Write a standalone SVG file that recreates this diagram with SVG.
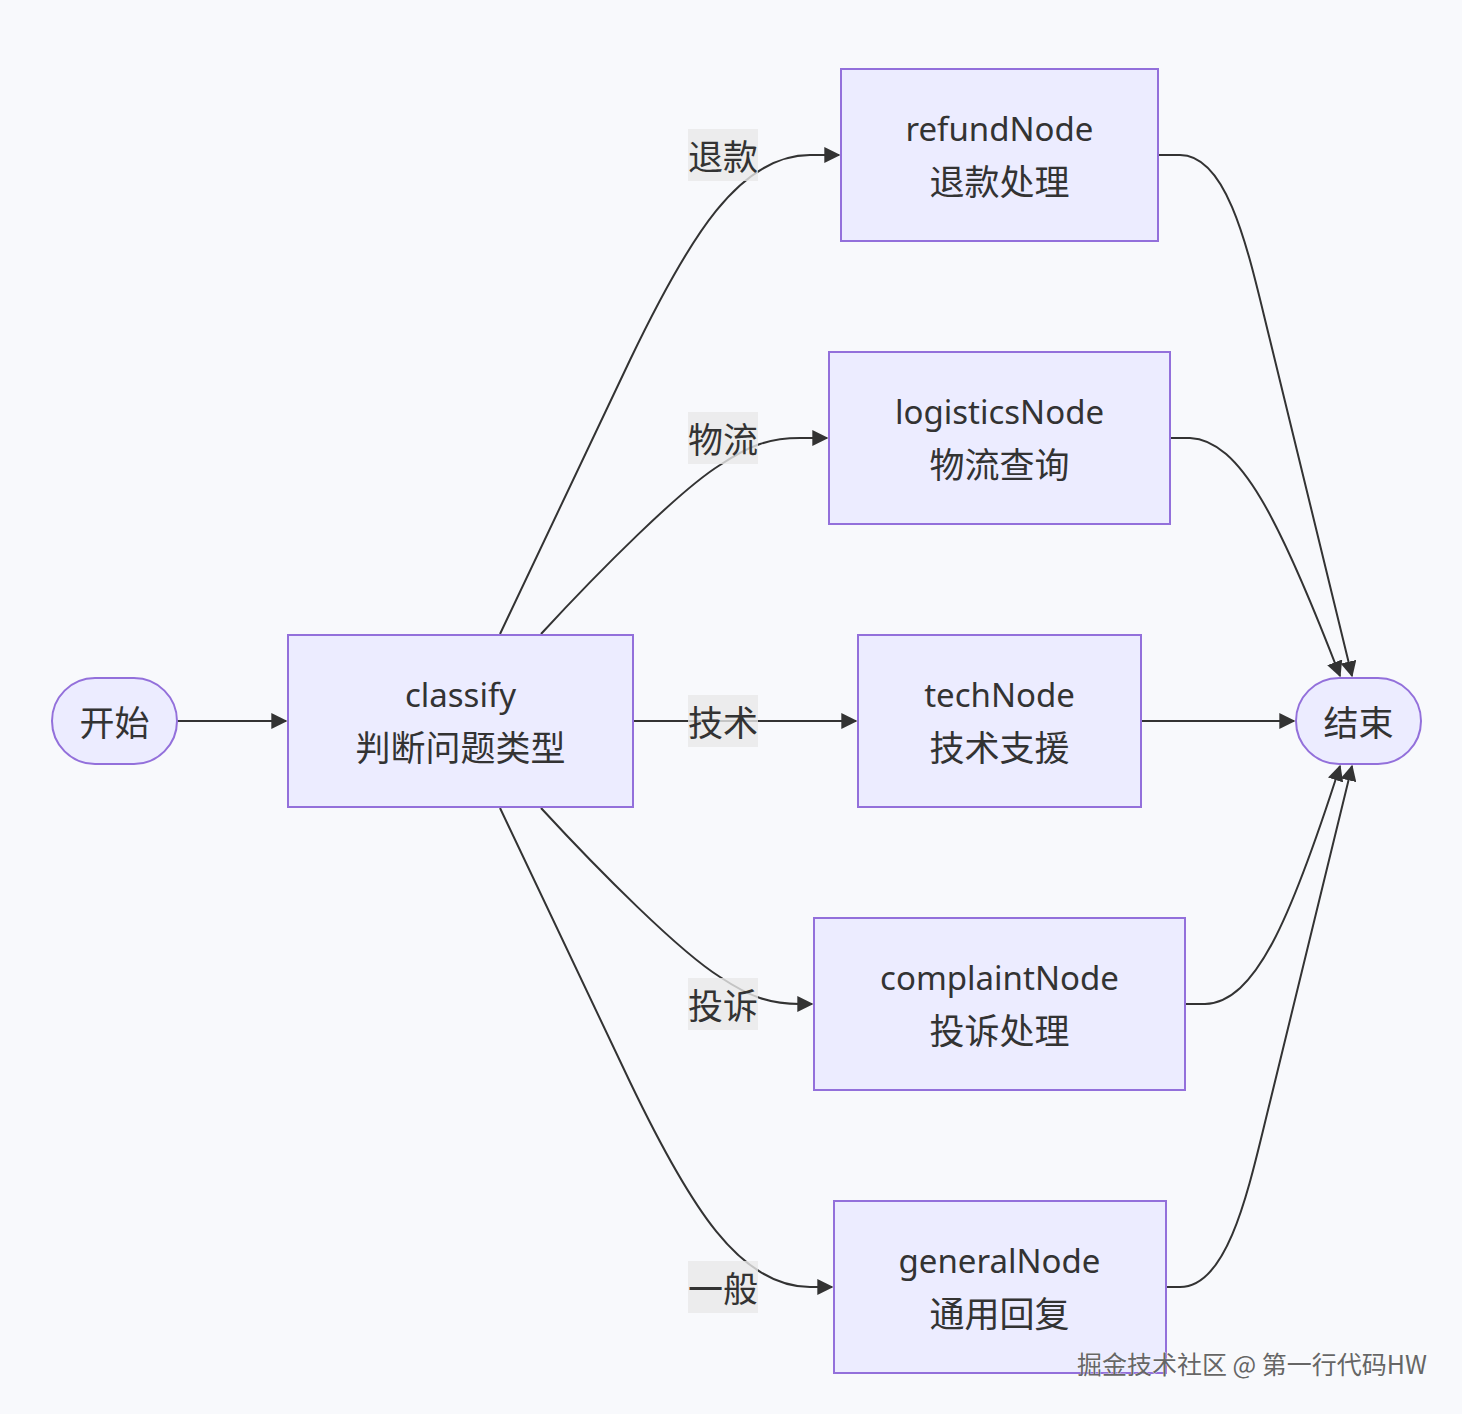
<svg xmlns="http://www.w3.org/2000/svg" width="1462" height="1414" viewBox="0 0 1462 1414">
<defs>
<marker id="arr" viewBox="0 0 12 12" refX="11" refY="6" markerWidth="16" markerHeight="16" markerUnits="userSpaceOnUse" orient="auto">
<path d="M0,0 L12,6 L0,12 z" fill="#333"/>
</marker>
</defs>
<style>
.bg{fill:#f8f9fc}
.node{fill:#ECECFF;stroke:#9370DB;stroke-width:2}
.t{font-family:"Noto Sans","Noto Sans CJK SC",sans-serif;font-size:33px;fill:#333;text-anchor:middle;dominant-baseline:central}
.c{font-family:"Noto Sans CJK SC",sans-serif;font-size:35px;fill:#333;text-anchor:middle;dominant-baseline:central}
.edge{fill:none;stroke:#333;stroke-width:2;marker-end:url(#arr)}
.lbg{fill:#e8e8e8;fill-opacity:0.8}
.wm{font-family:"Noto Sans CJK SC",sans-serif;font-size:25px;fill:#666;stroke:#fff;stroke-width:0.6;paint-order:stroke}
</style>
<rect class="bg" x="0" y="0" width="1462" height="1414"/>
<g id="connectors">
<path class="edge" d="M177,721 L286,721"/>
<path class="edge" d="M500,634 L630,360 C690,235 740,155 810,155 L839,155"/>
<path class="edge" d="M541,634 C600,570 680,490 720,465 C750,445 770,438 800,438 L827,438"/>
<path class="edge" d="M633,721 L856,721"/>
<path class="edge" d="M541,808 C600,872 680,952 720,977 C750,997 770,1004 800,1004 L812,1004"/>
<path class="edge" d="M500,808 L630,1082 C690,1207 740,1287 810,1287 L832,1287"/>
<path class="edge" d="M1158,155 L1180,155 C1230,155 1250,260 1270,340 L1352,676"/>
<path class="edge" d="M1170,438 L1190,438 C1240,440 1280,520 1340,676"/>
<path class="edge" d="M1141,721 L1294,721"/>
<path class="edge" d="M1185,1004 L1205,1004 C1255,1002 1290,922 1340,766"/>
<path class="edge" d="M1166,1287 L1180,1287 C1230,1287 1250,1182 1270,1102 L1352,766"/>
</g>
<g id="edge-labels">
<rect class="lbg" x="688" y="129" width="70" height="52"/>
<text class="c" x="723" y="154">退款</text>
<rect class="lbg" x="688" y="412" width="70" height="52"/>
<text class="c" x="723" y="437">物流</text>
<rect class="lbg" x="688" y="695" width="70" height="52"/>
<text class="c" x="723" y="720">技术</text>
<rect class="lbg" x="688" y="978" width="70" height="52"/>
<text class="c" x="723" y="1003">投诉</text>
<rect class="lbg" x="688" y="1261" width="70" height="52"/>
<text class="c" x="723" y="1286">一般</text>
</g>
<g id="start">
<rect class="node" x="52" y="678" width="125" height="86" rx="43" ry="43"/>
<text class="c" x="114.5" y="720">开始</text>
</g>
<g id="classify">
<rect class="node" x="288" y="635" width="345" height="172"/>
<text class="t" x="460.5" y="694">classify</text>
<text class="c" x="460.5" y="745">判断问题类型</text>
</g>
<g id="refundNode">
<rect class="node" x="841" y="69" width="317" height="172"/>
<text class="t" x="999.5" y="128">refundNode</text>
<text class="c" x="999.5" y="179">退款处理</text>
</g>
<g id="logisticsNode">
<rect class="node" x="829" y="352" width="341" height="172"/>
<text class="t" x="999.5" y="411">logisticsNode</text>
<text class="c" x="999.5" y="462">物流查询</text>
</g>
<g id="techNode">
<rect class="node" x="858" y="635" width="283" height="172"/>
<text class="t" x="999.5" y="694">techNode</text>
<text class="c" x="999.5" y="745">技术支援</text>
</g>
<g id="complaintNode">
<rect class="node" x="814" y="918" width="371" height="172"/>
<text class="t" x="999.5" y="977">complaintNode</text>
<text class="c" x="999.5" y="1028">投诉处理</text>
</g>
<g id="generalNode">
<rect class="node" x="834" y="1201" width="332" height="172"/>
<text class="t" x="999.5" y="1260">generalNode</text>
<text class="c" x="999.5" y="1311">通用回复</text>
</g>
<g id="end">
<rect class="node" x="1296" y="678" width="125" height="86" rx="43" ry="43"/>
<text class="c" x="1358.5" y="720">结束</text>
</g>
<text class="wm" x="1077" y="1374">掘金技术社区 @ 第一行代码HW</text>
</svg>
